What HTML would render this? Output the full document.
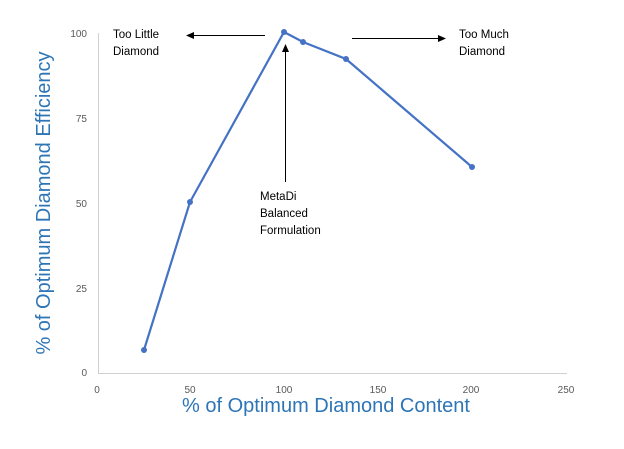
<!DOCTYPE html>
<html><head><style>body{margin:0;background:#fff}</style></head><body>
<svg width="624" height="444" xmlns="http://www.w3.org/2000/svg" font-family="Liberation Sans, sans-serif">
<rect width="624" height="444" fill="#fff"/>
<line x1="98.5" y1="33" x2="98.5" y2="374" stroke="#d0d0d0" stroke-width="1"/>
<line x1="98" y1="373.5" x2="567" y2="373.5" stroke="#d0d0d0" stroke-width="1"/>
<g font-size="10" fill="#595959" text-anchor="end">
<text x="87" y="37">100</text><text x="87" y="122">75</text><text x="87" y="207">50</text><text x="87" y="292">25</text><text x="87" y="376">0</text>
</g>
<g font-size="10" fill="#595959" text-anchor="middle">
<text x="97" y="393">0</text><text x="190" y="393">50</text><text x="284" y="393">100</text><text x="378" y="393">150</text><text x="471" y="393">200</text><text x="566" y="393">250</text>
</g>
<text x="326" y="412" font-size="20" fill="#2e75b6" text-anchor="middle">% of Optimum Diamond Content</text>
<text transform="translate(50,203) rotate(-90)" font-size="20" fill="#2e75b6" text-anchor="middle">% of Optimum Diamond Efficiency</text>
<polyline points="144,350 190,202 284,32 303,42 346,59 472,167" fill="none" stroke="#4472c4" stroke-width="2.2"/>
<g fill="#4472c4"><circle cx="144" cy="350" r="3"/><circle cx="190" cy="202" r="3"/><circle cx="284" cy="32" r="3"/><circle cx="303" cy="42" r="3"/><circle cx="346" cy="59" r="3"/><circle cx="472" cy="167" r="3"/></g>
<g font-size="11.5" fill="#000">
<text x="113" y="38">Too Little</text><text x="113" y="55">Diamond</text>
<text x="459" y="38">Too Much</text><text x="459" y="55">Diamond</text>
<text x="260" y="200">MetaDi</text><text x="260" y="217">Balanced</text><text x="260" y="234">Formulation</text>
</g>
<g stroke="#000" stroke-width="1">
<line x1="193" y1="35.5" x2="265" y2="35.5"/><line x1="352" y1="38.5" x2="440" y2="38.5"/><line x1="285.5" y1="50" x2="285.5" y2="182"/>
</g>
<g fill="#000">
<polygon points="186,35.5 194,32 194,39"/><polygon points="446,38.5 438,35 438,42"/><polygon points="285.5,44 282,52 289,52"/>
</g>
</svg>
</body></html>
